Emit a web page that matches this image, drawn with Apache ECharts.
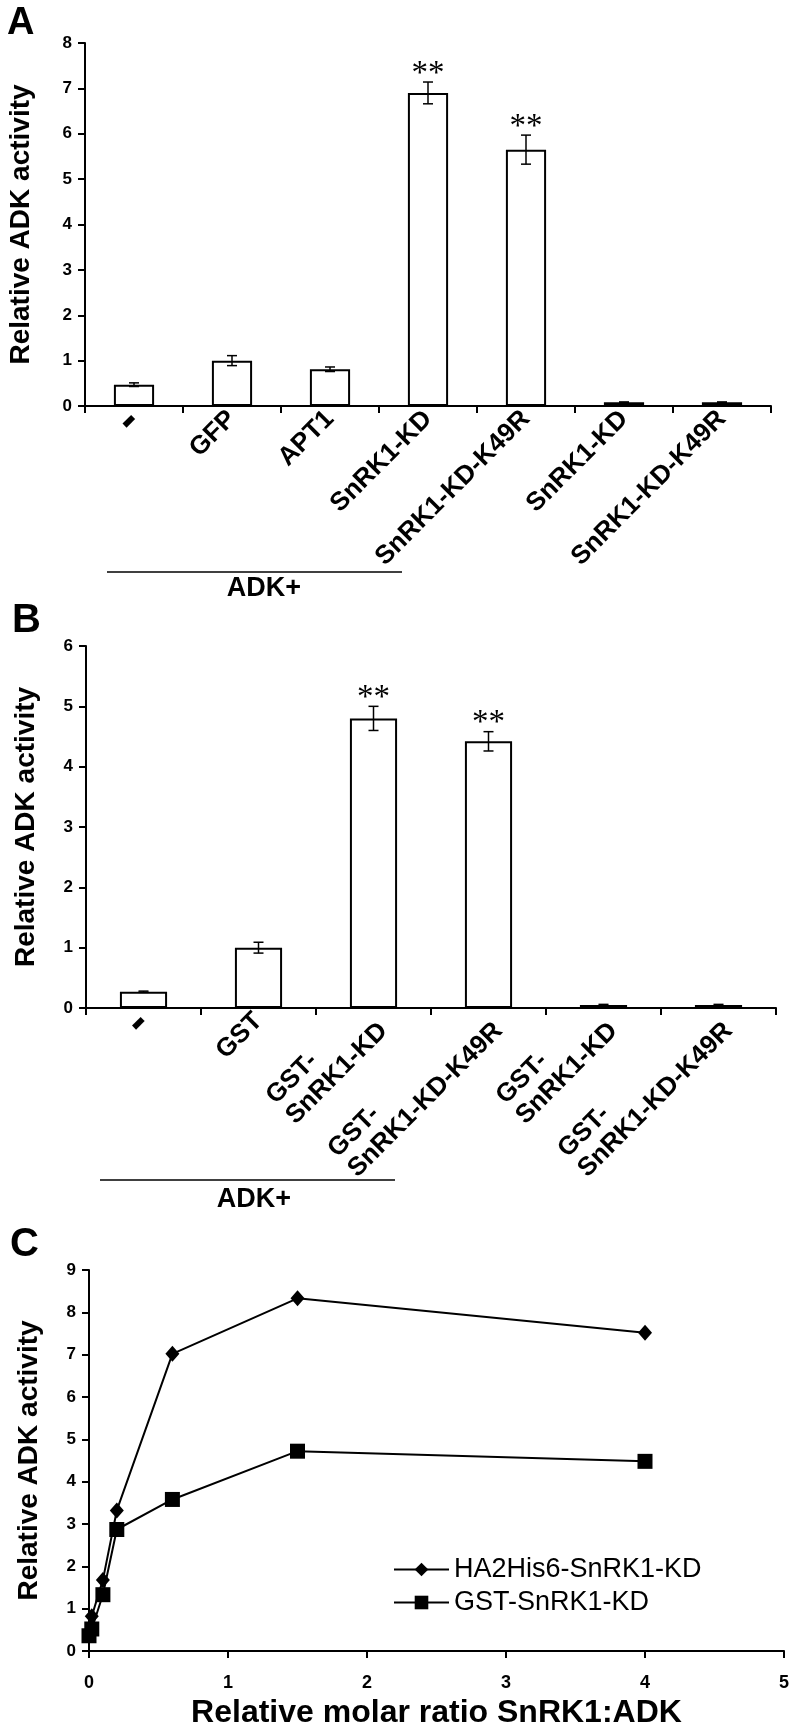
<!DOCTYPE html>
<html><head><meta charset="utf-8">
<script src="https://cdn.jsdelivr.net/npm/echarts/dist/echarts.min.js"></script>
<style>html,body{margin:0;padding:0;background:#fff}#c{width:797px;height:1731px}</style>
</head><body><div id="c"></div>
<script>
// ---------- Data ----------
const catsA = ['-', 'GFP', 'APT1', 'SnRK1-KD', 'SnRK1-KD-K49R', 'SnRK1-KD', 'SnRK1-KD-K49R'];
const valsA = [0.47, 1.00, 0.81, 6.90, 5.65, 0.08, 0.08];
const errA  = [0.04, 0.11, 0.05, 0.24, 0.32, 0.01, 0.01];
const sigA  = ['', '', '', '**', '**', '', ''];

const catsB = ['-', 'GST', 'GST-\nSnRK1-KD', 'GST-\nSnRK1-KD-K49R', 'GST-\nSnRK1-KD', 'GST-\nSnRK1-KD-K49R'];
const valsB = [0.27, 1.00, 4.80, 4.42, 0.05, 0.05];
const errB  = [0.01, 0.09, 0.20, 0.16, 0.01, 0.01];
const sigB  = ['', '', '**', '**', '', ''];

const ratioC = [0, 0.02, 0.1, 0.2, 0.6, 1.5, 4];
const haC    = [0.45, 0.82, 1.68, 3.32, 7.02, 8.33, 7.52];
const gstC   = [0.36, 0.52, 1.33, 2.87, 3.58, 4.72, 4.48];
const seriesNamesC = ['HA2His6-SnRK1-KD', 'GST-SnRK1-KD'];

const yTitle = 'Relative ADK activity';
const xTitleC = 'Relative molar ratio SnRK1:ADK';

// ---------- Styling ----------
const FONT = "'Liberation Sans', Arial, Helvetica, sans-serif";
const BLACK = '#000';
const LABEL_SIZE = 26;

function valueAxis(grid, max, name, gap) {
  return {
    type: 'value', gridIndex: grid, min: 0, max: max, interval: 1,
    axisLine: {show: true, lineStyle: {color: BLACK, width: 2}},
    axisTick: {show: true, inside: false, length: 7, lineStyle: {color: BLACK, width: 2}},
    axisLabel: {color: BLACK, fontSize: 17, fontWeight: 'bold', fontFamily: FONT, margin: 13},
    splitLine: {show: false},
    name: name, nameLocation: 'middle', nameGap: gap, nameRotate: 90, nameMoveOverlap: false,
    nameTextStyle: {color: BLACK, fontSize: 28, fontWeight: 'bold', fontFamily: FONT}
  };
}

function catAxis(grid, cats) {
  return {
    type: 'category', gridIndex: grid, data: cats,
    axisLine: {show: true, lineStyle: {color: BLACK, width: 2}},
    axisTick: {show: true, inside: false, length: 7, alignWithLabel: false, lineStyle: {color: BLACK, width: 2}},
    axisLabel: {
      interval: 0, rotate: 45, margin: 9, color: BLACK,
      formatter: v => v === '-' ? '{d|-}' : v.split('\n').map(s => '{l|' + s + '}').join('\n'),
      rich: {
        l: {align: 'left', fontSize: LABEL_SIZE, fontWeight: 'bold', fontFamily: FONT, color: BLACK, lineHeight: 28},
        d: {align: 'left', fontSize: 48, fontWeight: 'bold', fontFamily: FONT, color: BLACK, lineHeight: 28}
      }
    },
    splitLine: {show: false}
  };
}

function barSeries(grid, vals) {
  return {
    type: 'bar', xAxisIndex: grid, yAxisIndex: grid, data: vals, barWidth: '41%',
    itemStyle: {color: '#fff', borderColor: BLACK, borderWidth: 2}, silent: true, z: 2
  };
}

function errSeries(grid, vals, errs, sigs) {
  return {
    type: 'custom', xAxisIndex: grid, yAxisIndex: grid, silent: true, z: 5,
    data: vals.map((v, i) => [i, v, errs[i]]),
    encode: {x: 0, y: 1},
    renderItem: (params, api) => {
      const i = api.value(0), v = api.value(1), e = api.value(2);
      const t = api.coord([i, v + e]), b = api.coord([i, v - e]);
      const hw = 5, st = {stroke: BLACK, lineWidth: 1.5};
      const children = [
        {type: 'line', shape: {x1: t[0], y1: t[1], x2: b[0], y2: b[1]}, style: st},
        {type: 'line', shape: {x1: t[0] - hw, y1: t[1], x2: t[0] + hw, y2: t[1]}, style: st},
        {type: 'line', shape: {x1: b[0] - hw, y1: b[1], x2: b[0] + hw, y2: b[1]}, style: st}
      ];
      const s = sigs[params.dataIndex];
      if (s) {
        children.push({type: 'text', x: t[0], y: t[1] - 8,
          style: {text: s, fontSize: 33, fontFamily: "'Liberation Serif', 'Times New Roman', serif",
                  fill: BLACK, align: 'center', verticalAlign: 'middle'}});
      }
      return {type: 'group', children: children};
    }
  };
}

function lineData(xs, ys) { return xs.map((x, i) => [x, ys[i]]); }

const option = {
  backgroundColor: '#fff',
  animation: false,
  textStyle: {fontFamily: FONT},
  grid: [
    {left: 85, top: 43, width: 686, height: 363, outerBoundsMode: 'none', containLabel: false},
    {left: 86, top: 646, width: 690, height: 362, outerBoundsMode: 'none', containLabel: false},
    {left: 89, top: 1270, width: 695, height: 381, outerBoundsMode: 'none', containLabel: false}
  ],
  xAxis: [
    catAxis(0, catsA),
    catAxis(1, catsB),
    {
      type: 'value', gridIndex: 2, min: 0, max: 5, interval: 1,
      axisLine: {show: true, onZero: false, lineStyle: {color: BLACK, width: 2}},
      axisTick: {show: true, inside: false, length: 7, lineStyle: {color: BLACK, width: 2}},
      axisLabel: {color: BLACK, fontSize: 18, fontWeight: 'bold', fontFamily: FONT, margin: 23},
      splitLine: {show: false},
      name: xTitleC, nameLocation: 'middle', nameGap: 46, nameMoveOverlap: false,
      nameTextStyle: {color: BLACK, fontSize: 32, fontWeight: 'bold', fontFamily: FONT}
    }
  ],
  yAxis: [
    valueAxis(0, 8, yTitle, 50),
    valueAxis(1, 6, yTitle, 46),
    valueAxis(2, 9, yTitle, 46)
  ],
  legend: {
    orient: 'vertical', left: 388, top: 1551, itemWidth: 55, itemHeight: 17, itemGap: 6,
    data: seriesNamesC,
    textStyle: {color: BLACK, fontSize: 27, fontFamily: FONT}
  },
  series: [
    barSeries(0, valsA),
    errSeries(0, valsA, errA, sigA),
    barSeries(1, valsB),
    errSeries(1, valsB, errB, sigB),
    {
      name: seriesNamesC[0], type: 'line', xAxisIndex: 2, yAxisIndex: 2,
      data: lineData(ratioC, haC), symbol: 'diamond', symbolSize: [14, 16],
      lineStyle: {color: BLACK, width: 2}, itemStyle: {color: BLACK}, z: 3
    },
    {
      name: seriesNamesC[1], type: 'line', xAxisIndex: 2, yAxisIndex: 2,
      data: lineData(ratioC, gstC), symbol: 'rect', symbolSize: 15,
      lineStyle: {color: BLACK, width: 2}, itemStyle: {color: BLACK}, z: 4
    }
  ],
  graphic: [
    {type: 'text', left: 7, top: 5, style: {text: 'A', fontSize: 38, fontWeight: 'bold', fontFamily: FONT, fill: BLACK}},
    {type: 'text', left: 12, top: 601, style: {text: 'B', fontSize: 40, fontWeight: 'bold', fontFamily: FONT, fill: BLACK}},
    {type: 'text', left: 10, top: 1225, style: {text: 'C', fontSize: 40, fontWeight: 'bold', fontFamily: FONT, fill: BLACK}},
    {type: 'line', shape: {x1: 107, y1: 572, x2: 402, y2: 572}, style: {stroke: BLACK, lineWidth: 1.5}},
    {type: 'text', x: 264, y: 589, style: {text: 'ADK+', fontSize: 27, fontWeight: 'bold', fontFamily: FONT, fill: BLACK, align: 'center', verticalAlign: 'middle'}},
    {type: 'line', shape: {x1: 100, y1: 1180, x2: 395, y2: 1180}, style: {stroke: BLACK, lineWidth: 1.5}},
    {type: 'text', x: 254, y: 1200, style: {text: 'ADK+', fontSize: 27, fontWeight: 'bold', fontFamily: FONT, fill: BLACK, align: 'center', verticalAlign: 'middle'}}
  ]
};

const chart = echarts.init(document.getElementById('c'), null, {renderer: 'canvas'});
chart.setOption(option);
</script>
</body></html>
